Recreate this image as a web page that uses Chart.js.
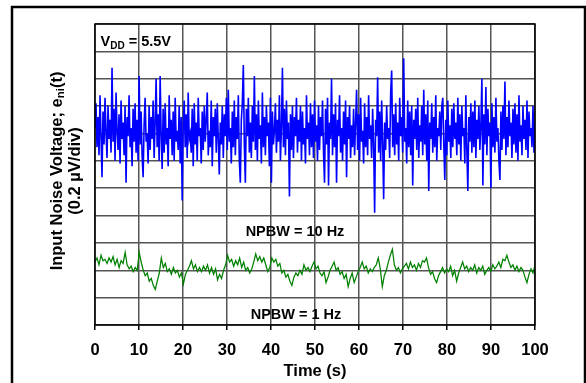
<!DOCTYPE html>
<html>
<head>
<meta charset="utf-8">
<script src="https://cdn.jsdelivr.net/npm/chart.js@4.4.1/dist/chart.umd.min.js"></script>
<style>
  body { margin: 0; background: #fff; }
  canvas { display: block; }
</style>
</head>
<body>
<canvas id="noise" width="586" height="383"></canvas>
<script>
// time axis ticks (s)
const timeTicks = [0, 10, 20, 30, 40, 50, 60, 70, 80, 90, 100];

// NPBW = 10 Hz trace, in divisions (0.2 uV/div)
const trace10Hz = [
  7.2, 8.1, 6.5, 7.6, 6.2, 8.4, 6.9, 5.4, 7.8, 6.6, 8.3, 7.0, 6.1, 8.0, 6.8, 7.5, 6.3, 9.4, 6.7, 7.9,
  6.0, 8.5, 7.1, 6.4, 7.7, 5.9, 8.2, 6.8, 7.4, 6.2, 8.0, 5.2, 7.6, 6.9, 8.4, 6.5, 7.2, 5.8, 7.9, 6.7,
  8.1, 6.3, 7.5, 6.0, 9.1, 6.6, 7.8, 6.2, 5.4, 7.3, 8.3, 6.7, 7.0, 5.9, 8.0, 6.4, 7.6, 6.8, 8.2, 6.1,
  7.4, 9.0, 6.5, 7.7, 6.0, 9.1, 6.9, 5.7, 7.9, 6.3, 8.1, 6.6, 7.2, 5.8, 8.4, 6.8, 7.5, 6.2, 7.8, 6.0,
  8.3, 6.7, 7.1, 6.4, 8.0, 5.9, 7.6, 4.55, 7.3, 8.2, 6.5, 7.7, 6.1, 8.5, 6.8, 7.0, 6.3, 7.9, 5.8, 8.1,
  6.6, 7.4, 6.0, 8.3, 6.9, 7.2, 5.9, 7.8, 6.4, 8.0, 6.7, 7.5, 8.5, 6.2, 7.1, 6.5, 8.2, 5.8, 7.6, 6.9,
  7.9, 6.3, 8.1, 6.8, 5.5, 7.4, 6.6, 8.0, 6.1, 7.7, 6.9, 8.3, 6.4, 8.6, 6.7, 7.2, 5.9, 7.8, 6.5, 8.2,
  6.2, 7.6, 6.8, 8.4, 6.0, 5.2, 7.5, 8.1, 9.5, 6.6, 5.2, 7.9, 6.9, 8.3, 6.3, 7.4, 6.1, 8.0, 6.7, 9.1,
  6.4, 7.7, 6.0, 8.2, 6.8, 7.3, 5.9, 8.5, 6.5, 7.6, 6.2, 8.0, 6.9, 7.4, 5.8, 8.3, 5.2, 7.8, 6.6, 7.1,
  8.1, 6.3, 7.5, 6.7, 8.4, 6.0, 7.2, 9.4, 6.5, 7.9, 6.2, 8.2, 6.8, 7.4, 4.7, 7.7, 6.4, 8.0, 6.1, 7.6,
  6.9, 8.3, 6.3, 7.5, 6.7, 8.0, 6.0, 7.8, 6.6, 7.2, 5.9, 8.4, 6.8, 7.4, 6.2, 8.1, 6.5, 7.7, 6.1, 8.2,
  6.7, 7.3, 6.0, 8.0, 6.4, 7.6, 6.9, 8.2, 6.3, 5.2, 7.9, 6.6, 8.3, 5.1, 7.4, 6.8, 9.0, 6.2, 7.7, 6.5,
  8.1, 5.2, 7.5, 6.9, 8.4, 6.3, 7.2, 6.0, 7.8, 6.6, 8.2, 5.4, 7.6, 6.8, 8.0, 6.1, 7.3, 6.5, 7.9, 6.2,
  7.4, 8.6, 6.4, 7.7, 6.0, 8.3, 6.7, 7.1, 5.9, 8.1, 6.5, 7.6, 6.2, 8.4, 6.8, 7.3, 6.1, 7.9, 6.6, 4.1,
  7.5, 6.9, 9.05, 6.3, 7.8, 6.0, 8.2, 6.7, 4.6, 7.4, 6.4, 8.0, 6.8, 7.2, 6.1, 8.5, 9.3, 6.5, 7.7, 6.2,
  8.1, 6.6, 7.4, 6.0, 8.3, 6.9, 7.6, 6.3, 9.75, 6.7, 7.2, 5.9, 8.2, 6.5, 7.8, 6.2, 8.0, 5.1, 7.5, 6.8,
  7.9, 6.4, 8.3, 6.1, 7.3, 6.7, 8.0, 6.2, 8.6, 6.6, 7.7, 6.0, 8.2, 4.9, 7.4, 6.8, 8.1, 6.3, 7.6, 6.5,
  8.4, 6.0, 7.2, 6.9, 7.8, 6.4, 8.0, 8.3, 6.6, 5.3, 7.5, 6.2, 8.2, 6.7, 7.3, 6.1, 7.9, 6.5, 8.1, 6.8,
  7.4, 6.2, 8.3, 6.6, 7.7, 6.0, 8.0, 6.9, 7.2, 5.9, 8.4, 6.4, 4.9, 7.6, 6.7, 8.1, 6.3, 7.8, 6.5, 8.2,
  6.1, 7.5, 6.8, 8.0, 6.4, 7.3, 9.0, 5.1, 7.7, 6.6, 8.7, 6.2, 7.9, 6.9, 7.4, 5.0, 8.1, 6.5, 7.6, 6.3,
  8.3, 6.7, 7.2, 6.0, 5.3, 7.8, 6.4, 8.0, 6.8, 8.9, 6.2, 7.6, 6.5, 8.2, 6.9, 7.4, 6.1, 7.9, 6.6, 8.1,
  6.3, 7.7, 6.0, 8.4, 6.7, 7.3, 6.2, 8.0, 6.8, 7.5, 6.4, 8.2, 6.1, 7.8, 6.9, 7.2, 6.5, 8.0, 6.3, 7.4
];

// NPBW = 1 Hz trace, in divisions
const trace1Hz = [
  2.3, 2.45, 2.2, 2.55, 2.35, 2.4, 2.25, 2.45, 2.3, 2.5, 2.2, 2.4, 2.1, 2.35, 2.25, 2.65,
  2.2, 2.05, 2.15, 1.95, 2.1, 2.0, 2.65, 2.3, 2.0, 1.8, 1.9, 1.6, 1.7, 1.45, 1.3, 1.6,
  1.9, 2.45, 2.1, 2.25, 1.95, 2.05, 1.85, 2.1, 1.9, 2.0, 1.75, 1.9, 1.5, 1.85, 2.0, 2.15,
  2.35, 2.05, 2.2, 1.95, 2.1, 1.95, 2.15, 2.0, 2.2, 1.9, 2.1, 1.85, 2.05, 1.65, 1.85, 1.7,
  2.0, 2.2, 2.55, 2.3, 2.4, 2.15, 2.35, 2.2, 2.45, 2.1, 2.3, 2.0, 2.1, 1.9, 2.05, 2.3,
  2.6, 2.35, 2.5, 2.3, 2.45, 2.2, 1.95, 2.1, 2.45, 2.3, 2.4, 2.15, 2.25, 1.9, 2.0, 1.75,
  1.85, 1.6, 1.45, 1.75, 1.9, 1.8, 2.0, 1.85, 2.2, 2.0, 2.1, 1.95, 2.15, 2.3, 2.05, 2.15,
  1.9, 1.8, 1.95, 1.55, 1.75, 2.0, 2.15, 2.3, 2.0, 2.1, 1.85, 1.95, 1.7, 1.85, 1.4, 1.7,
  1.9, 1.55, 1.75, 1.95, 2.1, 2.3, 2.05, 2.15, 1.9, 2.05, 1.95, 2.1, 2.2, 2.45, 2.05, 1.4,
  1.8, 2.0, 2.3, 2.55, 2.77, 2.2, 2.0, 2.1, 1.9, 2.05, 2.15, 2.25, 2.05, 2.3, 2.1, 2.2,
  2.0, 2.25, 2.1, 2.35, 2.3, 2.45, 2.1, 1.85, 1.95, 1.7, 1.55, 1.8, 1.95, 2.1, 1.9, 2.05,
  1.95, 2.15, 1.8, 2.0, 1.6, 1.9, 2.1, 2.3, 2.05, 2.15, 1.95, 2.1, 2.0, 2.2, 1.9, 2.1,
  2.0, 2.15, 1.85, 2.0, 2.1, 1.95, 2.2, 2.05, 2.15, 2.3, 2.1, 2.4, 2.35, 2.55, 2.3, 2.1,
  2.2, 2.0, 2.15, 1.95, 2.1, 2.0, 1.75, 1.55, 1.85, 2.05, 1.9, 2.2
];

const FONT = '"Liberation Sans", Arial, sans-serif';

function toPoints(values) {
  const last = values.length - 1;
  return values.map((v, i) => ({ x: i * 100 / last, y: v }));
}

// outer frame, plot frame and the text labels
const decorations = {
  id: 'decorations',
  afterDraw(chart) {
    const ctx = chart.ctx;
    const area = chart.chartArea;
    ctx.save();
    ctx.strokeStyle = '#000';
    ctx.lineWidth = 1.5;
    ctx.strokeRect(area.left, area.top, area.right - area.left, area.bottom - area.top);
    ctx.lineWidth = 2.5;
    ctx.strokeRect(12, 7, 573, 400);

    ctx.fillStyle = '#000';
    ctx.textBaseline = 'alphabetic';

    // V_DD label
    ctx.font = 'bold 14.5px ' + FONT;
    ctx.textAlign = 'left';
    let x = 100.5;
    ctx.fillText('V', x, 45.5);
    x += ctx.measureText('V').width;
    ctx.font = 'bold 10px ' + FONT;
    ctx.fillText('DD', x, 49);
    x += ctx.measureText('DD').width;
    ctx.font = 'bold 14.5px ' + FONT;
    ctx.fillText(' = 5.5V', x, 45.5);

    ctx.textAlign = 'center';
    ctx.fillText('NPBW = 10 Hz', 295, 236);
    ctx.fillText('NPBW = 1 Hz', 296, 319);

    // rotated y title, two lines
    ctx.translate(0, 171);
    ctx.rotate(-Math.PI / 2);
    ctx.textBaseline = 'middle';
    const big = 'bold 16.5px ' + FONT;
    const small = 'bold 11.5px ' + FONT;
    const parts = [['Input Noise Voltage; e', big, 0], ['ni', small, 4], ['(t)', big, 0]];
    let total = 0;
    parts.forEach(p => { ctx.font = p[1]; total += ctx.measureText(p[0]).width; });
    let px = -total / 2;
    ctx.textAlign = 'left';
    parts.forEach(p => {
      ctx.font = p[1];
      ctx.fillText(p[0], px, 57 + p[2]);
      px += ctx.measureText(p[0]).width;
    });
    ctx.font = big;
    ctx.textAlign = 'center';
    ctx.fillText('(0.2 \u00b5V/div)', 0, 75);
    ctx.restore();
  }
};

new Chart(document.getElementById('noise'), {
  type: 'line',
  data: {
    datasets: [
      {
        label: 'NPBW = 10 Hz',
        data: toPoints(trace10Hz),
        borderColor: '#0000ff',
        borderWidth: 1.6,
        pointRadius: 0,
        tension: 0
      },
      {
        label: 'NPBW = 1 Hz',
        data: toPoints(trace1Hz),
        borderColor: '#008000',
        borderWidth: 1.25,
        pointRadius: 0,
        tension: 0
      }
    ]
  },
  options: {
    responsive: false,
    animation: false,
    events: [],
    layout: { padding: { left: 0, top: 24, right: 51, bottom: 0 } },
    plugins: {
      legend: { display: false },
      tooltip: { enabled: false }
    },
    scales: {
      x: {
        type: 'linear',
        min: 0,
        max: 100,
        afterBuildTicks: scale => { scale.ticks = timeTicks.map(v => ({ value: v })); },
        afterFit: scale => { scale.height = 58; },
        border: { display: false },
        grid: { color: '#555', lineWidth: 1.5, tickLength: 5, tickColor: '#000' },
        ticks: {
          color: '#000',
          padding: 11,
          maxRotation: 0,
          font: { family: FONT, size: 16.5, weight: 'bold' }
        },
        title: {
          display: true,
          text: 'Time (s)',
          color: '#000',
          padding: { top: 0, bottom: 2 },
          font: { family: FONT, size: 16.5, weight: 'bold' }
        }
      },
      y: {
        min: 0,
        max: 11,
        afterFit: scale => { scale.width = 95; },
        border: { display: false },
        grid: { color: '#555', lineWidth: 1.5, drawTicks: false },
        ticks: { display: false, stepSize: 1 }
      }
    }
  },
  plugins: [decorations]
});
</script>
</body>
</html>
